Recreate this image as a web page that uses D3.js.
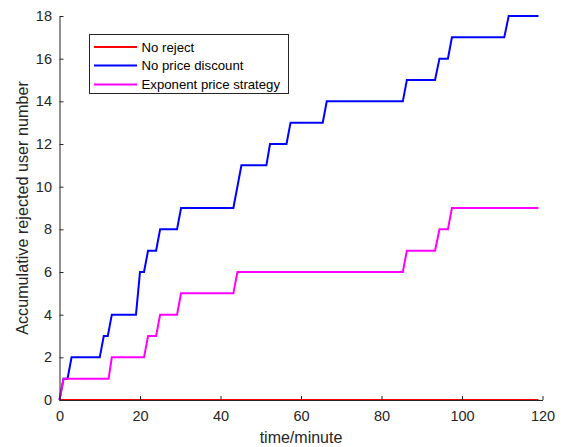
<!DOCTYPE html>
<html>
<head>
<meta charset="utf-8">
<script src="https://cdn.jsdelivr.net/npm/d3@7"></script>
<style>
  html, body { margin: 0; padding: 0; background: #fff; }
  svg { display: block; font-family: "Liberation Sans", Arial, sans-serif; }
</style>
</head>
<body>
<svg id="chart" width="565" height="447"></svg>
<script>
// Accumulated rejected users over time (minutes) for three pricing strategies
const noRejectTime  = [0, 119];
const noRejectValue = [0, 0];

const noDiscountTime  = [0, 1, 2, 3, 10, 11, 12, 13, 19, 20, 21, 22, 24, 25, 29.2, 30.2, 43.2, 45.2,
                         51.4, 52.3, 56.4, 57.4, 65.4, 66.4, 85.3, 86.3, 93.3, 94.4, 96.5, 97.5, 110.5, 111.6, 119];
const noDiscountValue = [0, 1, 1, 2, 2, 3, 3, 4, 4, 6, 6, 7, 7, 8, 8, 9, 9, 11,
                         11, 12, 12, 13, 13, 14, 14, 15, 15, 16, 16, 17, 17, 18, 18];

const exponentTime  = [0, 1, 12.2, 13, 21, 22, 24, 25, 29.2, 30.2, 43.2, 44.2, 85.3, 86.3, 93.3, 94.4, 96.5, 97.5, 119];
const exponentValue = [0, 1, 1, 2, 2, 3, 3, 4, 4, 5, 5, 6, 6, 7, 7, 8, 8, 9, 9];

const seriesNames  = ["No reject", "No price discount", "Exponent price strategy"];
const seriesColors = ["#ff0000", "#0000ff", "#ff00ff"];

const xTicks = [0, 20, 40, 60, 80, 100, 120];
const yTicks = [0, 2, 4, 6, 8, 10, 12, 14, 16, 18];

const xLabel = "time/minute";
const yLabel = "Accumulative rejected user number";

const series = [
  { name: seriesNames[0], color: seriesColors[0], pts: d3.zip(noRejectTime, noRejectValue) },
  { name: seriesNames[1], color: seriesColors[1], pts: d3.zip(noDiscountTime, noDiscountValue) },
  { name: seriesNames[2], color: seriesColors[2], pts: d3.zip(exponentTime, exponentValue) }
];

const margin = { left: 59.5, right: 22.5, top: 16, bottom: 47 };
const W = 565, H = 447;
const svg = d3.select("#chart");
const axisColor = "#262626";

const x = d3.scaleLinear().domain([0, 120]).range([margin.left, W - margin.right]);
const y = d3.scaleLinear().domain([0, 18]).range([H - margin.bottom, margin.top]);

// Series lines
const line = d3.line().x(d => x(d[0])).y(d => y(d[1]));
svg.append("g").selectAll("path")
  .data(series)
  .join("path")
  .attr("d", d => line(d.pts))
  .attr("fill", "none")
  .attr("stroke", d => d.color)
  .attr("stroke-width", 2)
  .attr("stroke-linejoin", "miter");

// Axes with inward ticks
const xAxis = svg.append("g")
  .attr("transform", `translate(0,${y(0)})`)
  .call(d3.axisBottom(x).tickValues(xTicks).tickSize(-4).tickPadding(10.5).tickSizeOuter(0));
const yAxis = svg.append("g")
  .attr("transform", `translate(${x(0)},0)`)
  .call(d3.axisLeft(y).tickValues(yTicks).tickSize(-4).tickPadding(7.5).tickSizeOuter(0));

[xAxis, yAxis].forEach(g => {
  g.select(".domain").attr("stroke", axisColor).attr("stroke-width", 1);
  g.selectAll(".tick line").attr("stroke", axisColor);
  g.selectAll(".tick text")
    .attr("fill", axisColor)
    .style("font-size", "14.5px")
    .style("font-family", "'Liberation Sans', Arial, sans-serif");
});

// Axis titles
svg.append("text")
  .attr("x", x(60)).attr("y", 443)
  .attr("text-anchor", "middle")
  .attr("fill", axisColor)
  .style("font-size", "16px")
  .text(xLabel);

svg.append("text")
  .attr("transform", `translate(27.5,${(y(0) + y(18)) / 2}) rotate(-90)`)
  .attr("text-anchor", "middle")
  .attr("fill", axisColor)
  .style("font-size", "16.2px")
  .text(yLabel);

// Legend
const legend = svg.append("g").attr("transform", "translate(89.5,34.5)");
legend.append("rect")
  .attr("width", 199).attr("height", 59)
  .attr("fill", "#fff")
  .attr("stroke", axisColor)
  .attr("stroke-width", 1);
const rowY = [12.5, 31, 50];
const items = legend.selectAll("g.item")
  .data(series)
  .join("g")
  .attr("class", "item")
  .attr("transform", (d, i) => `translate(0,${rowY[i]})`);
items.append("line")
  .attr("x1", 4.5).attr("x2", 47.5)
  .attr("stroke", d => d.color)
  .attr("stroke-width", 2);
items.append("text")
  .attr("x", 52).attr("y", 4.7)
  .attr("fill", "#000")
  .style("font-size", "13.2px")
  .text(d => d.name);
</script>
</body>
</html>
